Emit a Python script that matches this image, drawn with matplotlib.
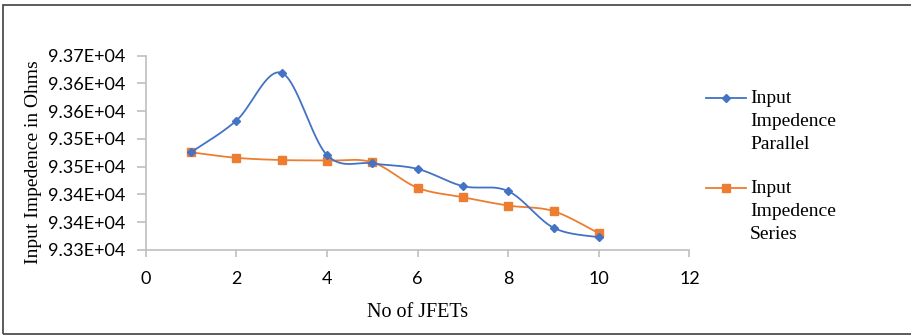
import numpy as np
import matplotlib
matplotlib.use("Agg")
import matplotlib.pyplot as plt
from matplotlib.lines import Line2D
from matplotlib.patches import Rectangle

# data
n_jfets = [1, 2, 3, 4, 5, 6, 7, 8, 9, 10]
z_parallel = [93476, 93533, 93619, 93471, 93456, 93446, 93415, 93406, 93340, 93323]
z_series = [93476, 93466, 93462, 93461, 93458, 93412, 93395, 93380, 93370, 93330]

y_ticks = [93300, 93350, 93400, 93450, 93500, 93550, 93600, 93650]
y_tick_labels = ["9.33E+04", "9.34E+04", "9.34E+04", "9.35E+04",
                 "9.35E+04", "9.36E+04", "9.36E+04", "9.37E+04"]
x_ticks = [0, 2, 4, 6, 8, 10, 12]

BLUE = "#4472C4"
ORANGE = "#ED7D31"
AXIS = "#BFBFBF"
SERIF = "Liberation Serif"
SANS = "Lato"


def smooth(xs, ys, steps=30):
    # excel style smoothed line: cubic bezier through the points
    x = np.asarray(xs, float)
    y = np.asarray(ys, float)
    px = np.concatenate([[x[0]], x, [x[-1]]])
    py = np.concatenate([[y[0]], y, [y[-1]]])
    t = np.linspace(0, 1, steps)[:, None]
    out_x, out_y = [], []
    for i in range(1, len(px) - 2):
        p0 = np.array([px[i], py[i]])
        p3 = np.array([px[i + 1], py[i + 1]])
        c1 = p0 + (np.array([px[i + 1], py[i + 1]]) - np.array([px[i - 1], py[i - 1]])) / 6
        c2 = p3 - (np.array([px[i + 2], py[i + 2]]) - np.array([px[i], py[i]])) / 6
        b = ((1 - t) ** 3) * p0 + 3 * ((1 - t) ** 2) * t * c1 + 3 * (1 - t) * t ** 2 * c2 + t ** 3 * p3
        out_x.extend(b[:, 0])
        out_y.extend(b[:, 1])
    return out_x, out_y


fig = plt.figure(figsize=(9.12, 3.36), dpi=100)
ax = fig.add_axes([0.1598, 0.256, 0.5962, 0.5783])

sx, sy = smooth(n_jfets, z_parallel)
ax.plot(sx, sy, color=BLUE, lw=1.3, zorder=3)
ax.plot(n_jfets, z_parallel, ls="none", marker="D", ms=4, color=BLUE, zorder=4)

sx, sy = smooth(n_jfets, z_series)
ax.plot(sx, sy, color=ORANGE, lw=1.3, zorder=2)
ax.plot(n_jfets, z_series, ls="none", marker="s", ms=6, color=ORANGE, zorder=2)

ax.set_xlim(0, 12)
ax.set_ylim(93300, 93650)
ax.set_xticks(x_ticks)
ax.set_yticks(y_ticks)
ax.set_yticklabels(y_tick_labels)
for side in ("top", "right"):
    ax.spines[side].set_visible(False)
for side in ("left", "bottom"):
    ax.spines[side].set_color(AXIS)
    ax.spines[side].set_linewidth(1.2)
ax.tick_params(axis="both", colors=AXIS, width=1.2, labelcolor="black")
ax.tick_params(axis="y", length=6.5, pad=8, labelsize=13)
ax.tick_params(axis="x", length=5, pad=10, labelsize=13)
for lab in ax.get_xticklabels() + ax.get_yticklabels():
    lab.set_fontfamily(SANS)

ax.set_xlabel("No of JFETs", fontfamily=SERIF, fontsize=14.5)
ax.xaxis.set_label_coords(0.5, -0.272)
ax.set_ylabel("Input Impedence in Ohms", fontfamily=SERIF, fontsize=14)
ax.yaxis.set_label_coords(-0.19, 0.45)

# legend drawn by hand to keep the handle on the first line
for y0, col, mk, ms, label in [(0.708, BLUE, "D", 4, "Input\nImpedence\nParallel"),
                               (0.44, ORANGE, "s", 6, "Input\nImpedence\nSeries")]:
    fig.add_artist(Line2D([705.7 / 912, 745.7 / 912], [y0, y0], color=col, lw=1.3))
    fig.add_artist(Line2D([725.7 / 912], [y0], color=col, marker=mk, ms=ms))
    fig.text(750 / 912, y0 + 0.024, label, fontfamily=SERIF, fontsize=14,
             va="top", ha="left", linespacing=1.45)

# outer frame, right edge runs off the picture
fig.add_artist(Rectangle((3.5 / 912, 2 / 336), 1.2, 329.5 / 336, transform=fig.transFigure,
                         fill=False, edgecolor="#404040", lw=1.2))

fig.savefig("out.png", dpi=100, facecolor="white")
